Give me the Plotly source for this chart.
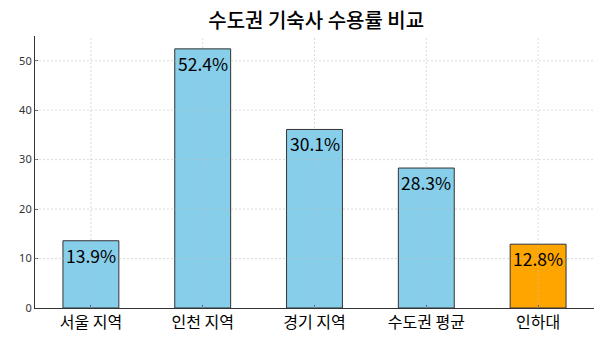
import plotly.graph_objects as go

categories = ["서울 지역", "인천 지역", "경기 지역", "수도권 평균", "인하대"]
bar_heights = [13.6, 52.4, 36.1, 28.3, 12.9]
labels = ["13.9%", "52.4%", "30.1%", "28.3%", "12.8%"]
colors = ["#87CEEB", "#87CEEB", "#87CEEB", "#87CEEB", "#FFA500"]
yticks = [0, 10, 20, 30, 40, 50]

xs = list(range(len(categories)))
FONT = "Noto Sans CJK KR"

fig = go.Figure(go.Bar(
    x=xs, y=bar_heights, width=0.5,
    marker=dict(color=colors, line=dict(color="#333333", width=1)),
    hoverinfo="skip",
))

grid = dict(color="rgba(190,190,190,0.55)", width=1, dash="2px,2px")
shapes = []
for t in yticks[1:]:
    shapes.append(dict(type="line", xref="paper", x0=0, x1=1, yref="y", y0=t, y1=t,
                       line=grid, layer="above"))
for x in xs:
    shapes.append(dict(type="line", xref="x", x0=x, x1=x, yref="paper", y0=0, y1=1,
                       line=grid, layer="above"))

annotations = [
    dict(x=x, y=h, xref="x", yref="y", text=lab, showarrow=False,
         yanchor="top", yshift=0,
         font=dict(family=FONT, size=17.5, color="black"))
    for x, h, lab in zip(xs, bar_heights, labels)
]

fig.update_layout(
    width=600, height=358,
    margin=dict(l=35, r=6, t=36, b=50),
    plot_bgcolor="white", paper_bgcolor="white",
    title=dict(text="수도권 기숙사 수용률 비교", x=0.527, xanchor="center", y=0.94, yanchor="middle",
               font=dict(family=FONT, size=20, color="black", weight=500)),
    showlegend=False,
    shapes=shapes,
    annotations=annotations,
    font=dict(family=FONT),
)
fig.update_xaxes(
    range=[-0.5, 4.5], tickvals=xs, ticktext=categories,
    tickfont=dict(family=FONT, size=16, color="black"),
    showline=True, linecolor="#333", linewidth=1.2,
    ticks="inside", ticklen=3, tickcolor="#555",
    showgrid=False, zeroline=False, layer="above traces",
)
fig.update_yaxes(
    range=[0, 55.0], tickvals=yticks,
    tickfont=dict(family="Noto Sans", size=11, color="#333"),
    showline=True, linecolor="#333", linewidth=1.2,
    ticks="inside", ticklen=3, tickcolor="#555",
    showgrid=False, zeroline=False, layer="above traces",
)
fig.write_html("out.html")
